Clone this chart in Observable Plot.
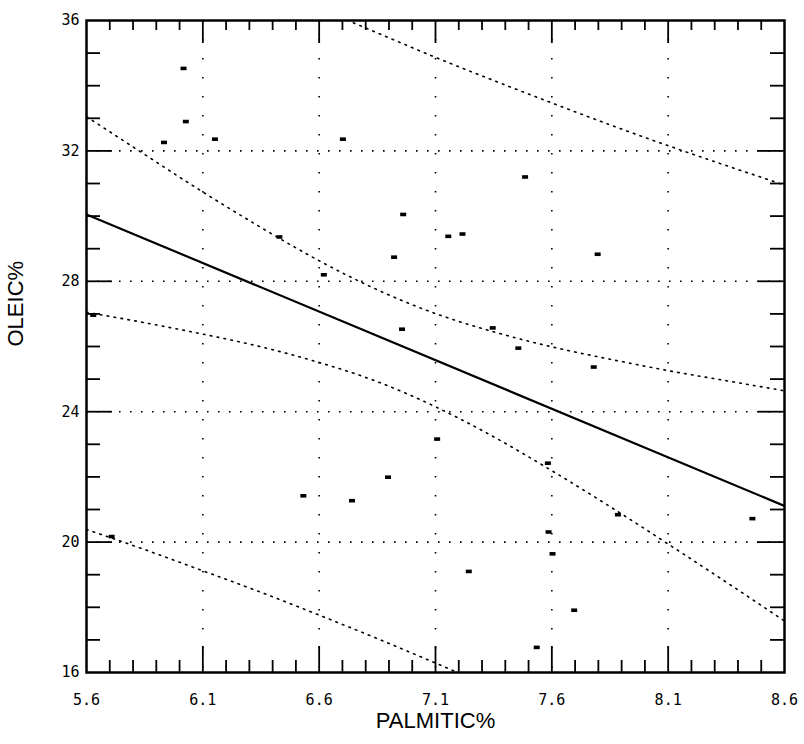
<!DOCTYPE html>
<html>
<head>
<meta charset="utf-8">
<script src="https://cdn.jsdelivr.net/npm/d3@7"></script>
<script src="https://cdn.jsdelivr.net/npm/@observablehq/plot@0.6"></script>
<style>
  html, body { margin: 0; padding: 0; background: #fff; }
  #chart { width: 804px; height: 744px; }
</style>
</head>
<body>
<div id="chart"></div>
<script>
// ---- data ----
const xMajorTicks = [5.6, 6.1, 6.6, 7.1, 7.6, 8.1, 8.6];
const yMajorTicks = [16, 20, 24, 28, 32, 36];
const xMinorTicks = [5.7, 5.8, 5.9, 6.0, 6.2, 6.3, 6.4, 6.5, 6.7, 6.8, 6.9, 7.0, 7.2, 7.3, 7.4, 7.5, 7.7, 7.8, 7.9, 8.0, 8.2, 8.3, 8.4, 8.5];
const yMinorTicks = [17, 18, 19, 21, 22, 23, 25, 26, 27, 29, 30, 31, 33, 34, 35];
const xGrid = [6.1, 6.6, 7.1, 7.6, 8.1];
const yGrid = [20, 24, 28, 32];

const palmitic = [6.017, 6.027, 5.933, 6.152, 6.702, 6.961, 7.155, 7.216, 6.922, 6.620, 6.956, 6.429, 7.485, 7.797, 7.346, 7.456, 7.780, 7.107, 6.896, 6.532, 6.741, 7.243, 7.583, 7.884, 7.586, 7.603, 7.696, 7.535, 8.462, 5.708, 5.629];
const oleic    = [34.53, 32.90, 32.26, 32.36, 32.36, 30.05, 29.38, 29.45, 28.74, 28.20, 26.53, 29.36, 31.20, 28.83, 26.57, 25.95, 25.37, 23.16, 21.99, 21.42, 21.27, 19.10, 22.42, 20.84, 20.31, 19.64, 17.91, 16.77, 20.72, 20.17, 26.96];

const fitX = [5.6, 8.6];
const fitY = [30.05, 21.11];

const bandX   = [5.6, 5.85, 6.1, 6.35, 6.6, 6.85, 7.1, 7.35, 7.6, 7.85, 8.1, 8.35, 8.6];
const ciUpper = [33.05, 31.89, 30.74, 29.65, 28.63, 27.74, 27.01, 26.45, 25.99, 25.61, 25.26, 24.95, 24.64];
const ciLower = [27.05, 26.73, 26.38, 25.99, 25.51, 24.92, 24.15, 23.23, 22.19, 21.09, 19.94, 18.77, 17.58];
const piUpper = [39.71, 38.85, 38.00, 37.18, 36.38, 35.62, 34.87, 34.16, 33.47, 32.80, 32.16, 31.55, 30.95];
const piLower = [20.39, 19.77, 19.12, 18.46, 17.76, 17.04, 16.29, 15.52, 14.71, 13.90, 13.04, 12.17, 11.27];

// ---- build tables ----
const points = palmitic.map((x, i) => ({x, y: oleic[i]}));
const fit = fitX.map((x, i) => ({x, y: fitY[i]}));
const band = (arr) => bandX.map((x, i) => ({x, y: arr[i]}));

const W = 804, H = 744;
const mL = 86, mR = 20, mT = 20, mB = 72;
const innerW = W - mL - mR, innerH = H - mT - mB;
const minorLen = 12, majorLen = 26;

const dash = { draw(ctx) { ctx.rect(-3, -1.8, 6, 3.6); } };
const tickFont = "'DejaVu Sans Mono', monospace";
const labelFont = "'Liberation Sans', Arial, sans-serif";
const dotted = {stroke: "#000", strokeWidth: 1.6, strokeDasharray: "1.6,5.4", curve: "natural", clip: true};

const chart = Plot.plot({
  width: W,
  height: H,
  marginLeft: mL,
  marginRight: mR,
  marginTop: mT,
  marginBottom: mB,
  style: {background: "#fff", color: "#000", fontFamily: tickFont},
  x: {domain: [5.6, 8.6], axis: null},
  y: {domain: [16, 36], axis: null},
  marks: [
    // dotted grid
    Plot.ruleX(xGrid, {stroke: "#000", strokeWidth: 1.6, strokeDasharray: "1.6,17.4"}),
    Plot.ruleY(yGrid, {stroke: "#000", strokeWidth: 1.6, strokeDasharray: "1.6,9.4"}),
    // ticks pointing inward on all four sides
    Plot.ruleX(xMinorTicks, {insetTop: innerH - minorLen, stroke: "#000", strokeWidth: 1.8}),
    Plot.ruleX(xMinorTicks, {insetBottom: innerH - minorLen + 2, stroke: "#000", strokeWidth: 1.8}),
    Plot.ruleX(xGrid, {insetTop: innerH - majorLen, stroke: "#000", strokeWidth: 1.8}),
    Plot.ruleX(xGrid, {insetBottom: innerH - majorLen + 3, stroke: "#000", strokeWidth: 1.8}),
    Plot.ruleY(yMinorTicks, {insetRight: innerW - minorLen - 2, stroke: "#000", strokeWidth: 1.8}),
    Plot.ruleY(yMinorTicks, {insetLeft: innerW - minorLen - 2, stroke: "#000", strokeWidth: 1.8}),
    Plot.ruleY(yGrid, {insetRight: innerW - majorLen, stroke: "#000", strokeWidth: 1.8}),
    Plot.ruleY(yGrid, {insetLeft: innerW - majorLen, stroke: "#000", strokeWidth: 1.8}),
    // bands
    Plot.line(band(piUpper), {x: "x", y: "y", ...dotted}),
    Plot.line(band(piLower), {x: "x", y: "y", ...dotted}),
    Plot.line(band(ciUpper), {x: "x", y: "y", ...dotted}),
    Plot.line(band(ciLower), {x: "x", y: "y", ...dotted}),
    // regression line
    Plot.line(fit, {x: "x", y: "y", stroke: "#000", strokeWidth: 2.2, clip: true}),
    // observations
    Plot.dot(points, {x: "x", y: "y", symbol: dash, fill: "#000", stroke: "none", r: 3}),
    // frame
    Plot.frame({stroke: "#000", strokeWidth: 2.5}),
    // tick labels
    Plot.axisX(xMajorTicks, {tickSize: 0, tickPadding: 22, fontSize: 15, fontFamily: tickFont, tickFormat: d => d.toFixed(1), fill: "#000", label: null}),
    Plot.axisY(yMajorTicks, {tickSize: 0, tickPadding: 7, fontSize: 15, fontFamily: tickFont, tickFormat: d => String(d), fill: "#000", label: null}),
    // axis titles
    Plot.text(["PALMITIC%"], {frameAnchor: "bottom", dy: 55, fontSize: 22, fontFamily: labelFont, fill: "#000"}),
    Plot.text(["OLEIC%"], {frameAnchor: "left", dx: -71, rotate: -90, fontSize: 22, fontFamily: labelFont, fill: "#000"})
  ]
});
document.getElementById("chart").appendChild(chart);
</script>
</body>
</html>
